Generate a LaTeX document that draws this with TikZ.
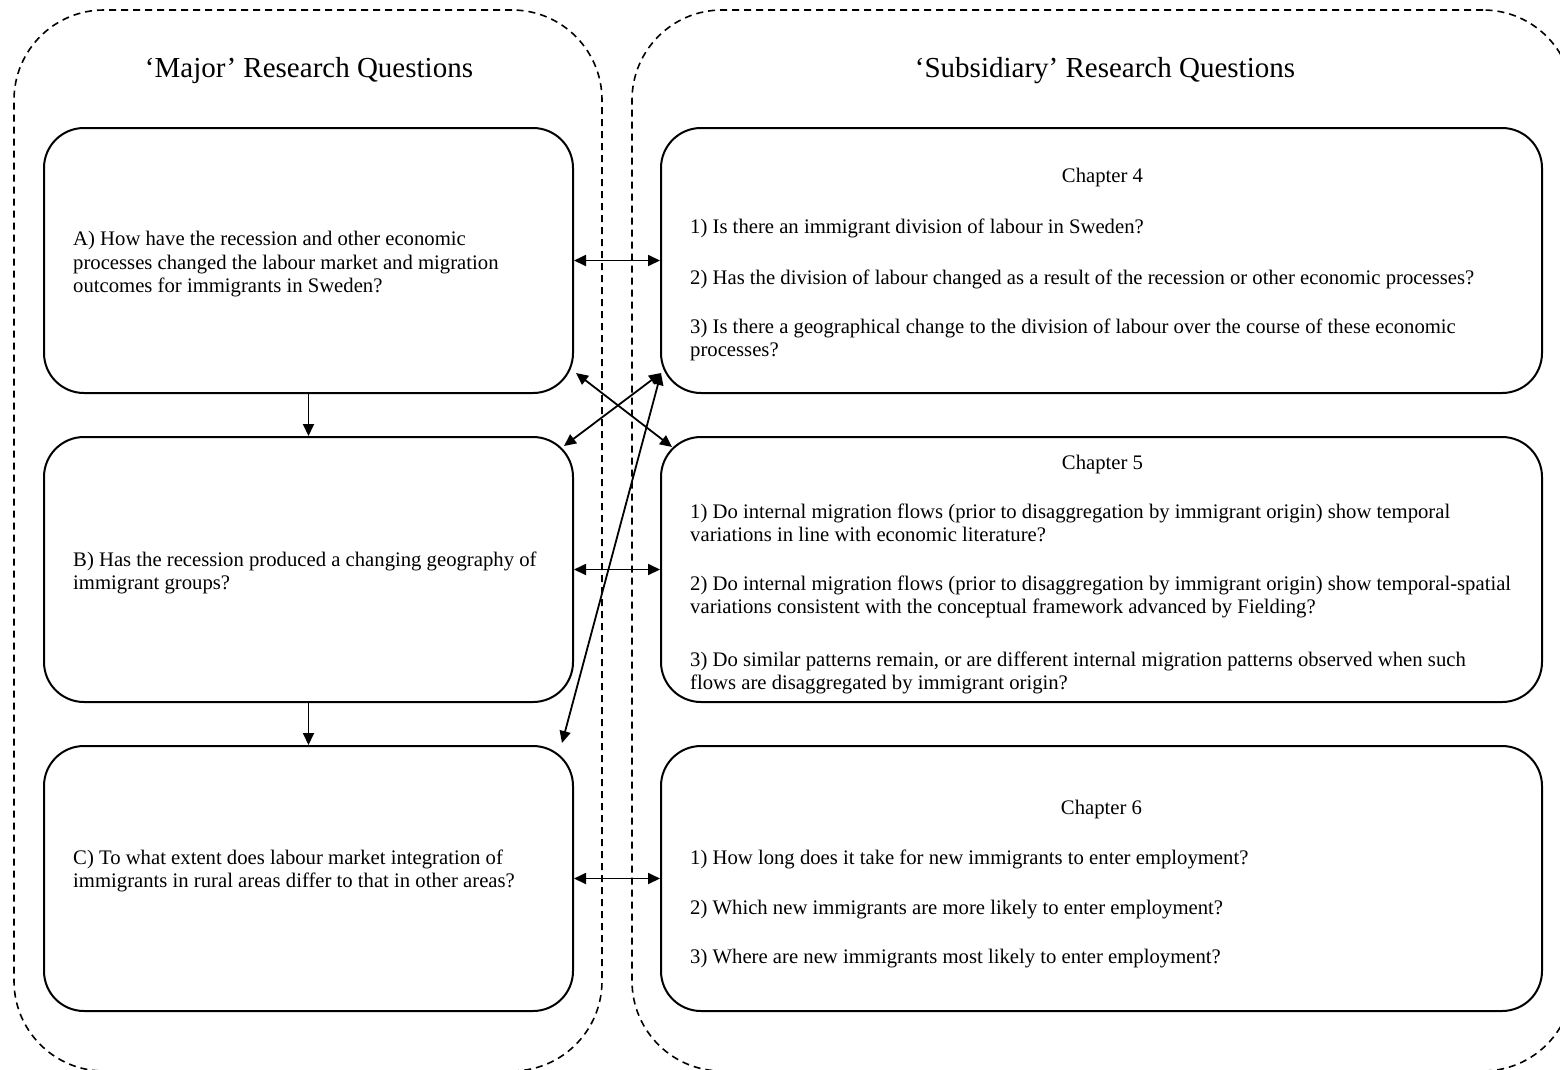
\documentclass[tikz,border=0pt]{standalone}
\usepackage{fontspec}
\setmainfont{Liberation Serif}
\usetikzlibrary{arrows.meta}

\begin{document}
\begin{tikzpicture}[x=1pt,y=-1pt,
  region/.style={draw, line width=1.6pt, dash pattern=on 7pt off 5pt,
    rounded corners=90pt, inner sep=0pt},
  qbox/.style={draw, line width=2pt, rounded corners=40pt, inner sep=0pt},
  tip/.tip={Triangle[length=12pt,width=11pt]},
  link/.style={line width=1.8pt, tip-tip},
  flow/.style={line width=1.8pt, -tip},
  heading/.style={font=\fontsize{29}{33}\selectfont, inner sep=0pt},
  body/.style={font=\fontsize{20.7}{23.5}\selectfont, align=left, inner sep=0pt, anchor=west},
  chap/.style={font=\fontsize{20.7}{23.5}\selectfont, inner sep=0pt}]

\useasboundingbox (0,0) rectangle (1560,1069);
\clip (0,0) rectangle (1560,1069);

% dashed regions
\node[region, minimum width=588pt, minimum height=1061pt] (major) at (308,540.5) {};
\node[region, minimum width=941pt, minimum height=1061pt] (subsidiary) at (1102.5,540.5) {};

% headings
\node[heading] (majorhead) at (309,71) {‘Major’ Research Questions};
\node[heading] (subhead) at (1105,71) {‘Subsidiary’ Research Questions};

% major question boxes
\node[qbox, minimum width=529pt, minimum height=265pt] (A) at (308.5,260.5) {};
\node[qbox, minimum width=529pt, minimum height=265pt] (B) at (308.5,569.5) {};
\node[qbox, minimum width=529pt, minimum height=265pt] (C) at (308.5,878.5) {};

% chapter boxes
\node[qbox, minimum width=881pt, minimum height=265pt] (ch4) at (1101.5,260.5) {};
\node[qbox, minimum width=881pt, minimum height=265pt] (ch5) at (1101.5,569.5) {};
\node[qbox, minimum width=881pt, minimum height=265pt] (ch6) at (1101.5,878.5) {};

% major questions
\node[body] (qa) at (73,264.5) {A) How have the recession and other economic\\processes changed the labour market and migration\\outcomes for immigrants in Sweden?};
\node[body] (qb) at (73,573) {B) Has the recession produced a changing geography of\\immigrant groups?};
\node[body] (qc) at (73,871) {C) To what extent does labour market integration of\\immigrants in rural areas differ to that in other areas?};

% chapter 4
\node[chap] (t4) at (1102.5,177.5) {Chapter 4};
\node[body] (q41) at (690,228.5) {1) Is there an immigrant division of labour in Sweden?};
\node[body] (q42) at (690,279.5) {2) Has the division of labour changed as a result of the recession or other economic processes?};
\node[body] (q43) at (690,340) {3) Is there a geographical change to the division of labour over the course of these economic\\processes?};

% chapter 5
\node[chap] (t5) at (1102.5,464.5) {Chapter 5};
\node[body] (q51) at (690,523) {1) Do internal migration flows (prior to disaggregation by immigrant origin) show temporal\\variations in line with economic literature?};
\node[body] (q52) at (690,597) {2) Do internal migration flows (prior to disaggregation by immigrant origin) show temporal-spatial\\variations consistent with the conceptual framework advanced by Fielding?};
\node[body] (q53) at (690,673) {3) Do similar patterns remain, or are different internal migration patterns observed when such\\flows are disaggregated by immigrant origin?};

% chapter 6
\node[chap] (t6) at (1101.5,809.5) {Chapter 6};
\node[body] (q61) at (690,859.5) {1) How long does it take for new immigrants to enter employment?};
\node[body] (q62) at (690,909.5) {2) Which new immigrants are more likely to enter employment?};
\node[body] (q63) at (690,958.5) {3) Where are new immigrants most likely to enter employment?};

% links between major and subsidiary questions
\draw[link] (A.east) -- (ch4.west);
\draw[link] (B.east) -- (ch5.west);
\draw[link] (C.east) -- (ch6.west);
\draw[link] ([shift={(2,-21)}]A.south east) -- ([shift={(12,11)}]ch5.north west);
\draw[link] ([shift={(-10,10)}]B.north east) -- ([shift={(1,-21)}]ch4.south west);
\draw[link] ([shift={(-12,-2)}]C.north east) -- ([shift={(1,-21)}]ch4.south west);

% sequence of major questions
\draw[flow] (A.south) -- (B.north);
\draw[flow] (B.south) -- (C.north);
\end{tikzpicture}
\end{document}
